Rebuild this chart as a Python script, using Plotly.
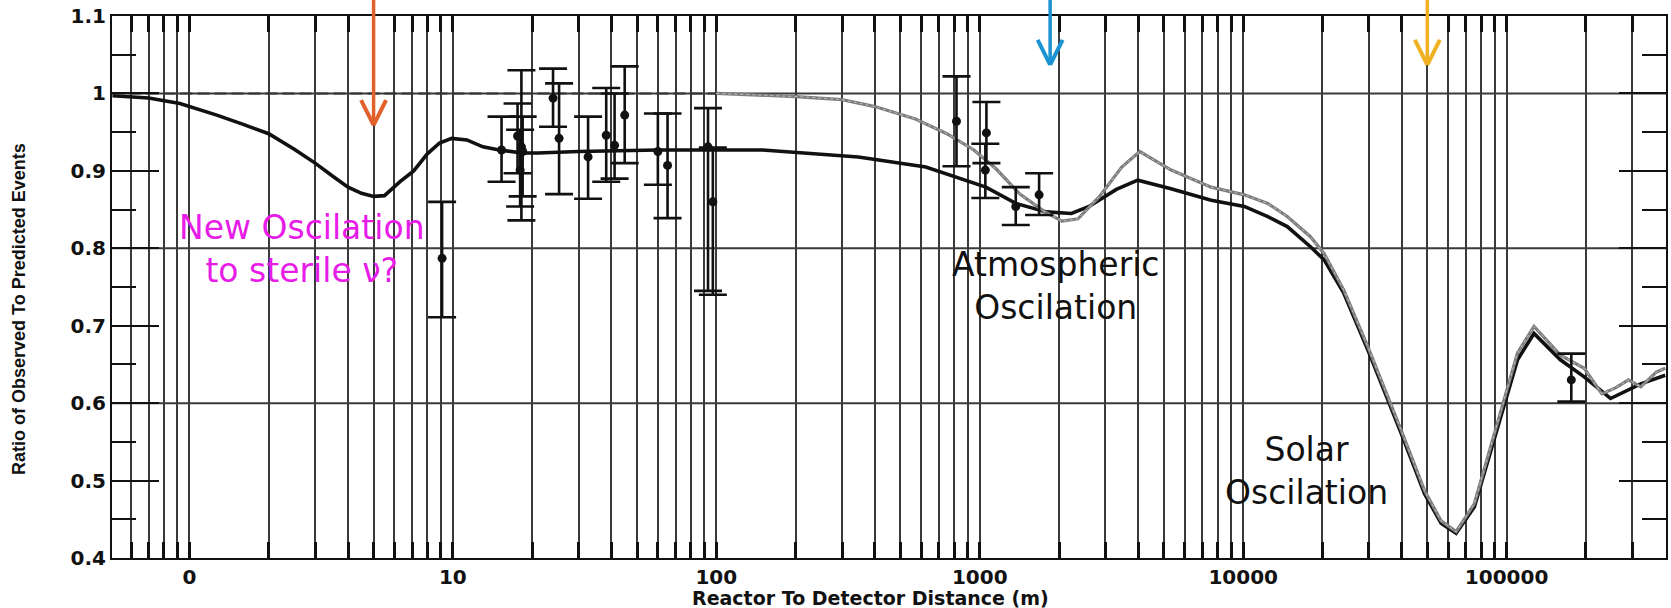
import math
import plotly.graph_objects as go

# Predicted ratio curves (distance in m, ratio observed/predicted)
black_x = [0.51, 0.7, 0.92, 1.27, 1.6, 2.0, 2.5, 3.0, 3.5, 4.0, 4.5, 5.0, 5.5, 6.3, 7.1, 8.0,
           8.9, 9.9, 11.3, 13, 15, 18.4, 21, 30, 60, 150, 346, 624, 1055, 1370, 1790, 2230,
           2600, 2840, 3300, 3980, 5320, 7560, 10100, 12400, 14700, 18000, 20300, 24100,
           29800, 39800, 48800, 56400, 64300, 75400, 95300, 110000, 127000, 160000, 197000,
           248000, 323000, 400000]
black_y = [0.997, 0.994, 0.987, 0.972, 0.960, 0.948, 0.928, 0.910, 0.893, 0.879, 0.871, 0.867,
           0.868, 0.886, 0.900, 0.922, 0.936, 0.942, 0.940, 0.931, 0.927, 0.923, 0.923, 0.925,
           0.927, 0.927, 0.918, 0.905, 0.879, 0.858, 0.847, 0.845, 0.854, 0.862, 0.876, 0.888,
           0.877, 0.862, 0.854, 0.841, 0.828, 0.802, 0.785, 0.742, 0.668, 0.561, 0.483, 0.445,
           0.432, 0.466, 0.582, 0.656, 0.690, 0.656, 0.634, 0.606, 0.625, 0.636]

gray_x = [0.51, 100, 200, 300, 400, 570, 750, 950, 1150, 1420, 1750, 2050, 2360, 2850, 3460,
          4050, 5330, 7560, 10100, 12400, 14700, 18000, 20300, 24100, 29800, 39800, 48800,
          56400, 64300, 75400, 95300, 110000, 127000, 160000, 197000, 230000, 260000, 290000,
          323000, 370000, 400000]
gray_y = [1.0, 1.0, 0.996, 0.992, 0.983, 0.967, 0.948, 0.927, 0.903, 0.870, 0.848, 0.835,
          0.838, 0.867, 0.905, 0.925, 0.901, 0.879, 0.869, 0.858, 0.841, 0.815, 0.793, 0.746,
          0.672, 0.565, 0.487, 0.448, 0.434, 0.470, 0.590, 0.665, 0.699, 0.662, 0.645, 0.612,
          0.620, 0.630, 0.621, 0.640, 0.645]

# Reactor experiments
data_x = [9.1, 15.3, 17.6, 18.0, 18.2, 18.4, 24, 25.3, 32.6, 38.2, 41.1, 44.9, 60, 65.3,
          93, 97, 816, 1050, 1060, 1370, 1680, 176000]
data_y = [0.787, 0.927, 0.945, 0.901, 0.931, 0.925, 0.994, 0.942, 0.918, 0.946, 0.933, 0.972,
          0.925, 0.907, 0.931, 0.860, 0.964, 0.901, 0.949, 0.854, 0.869, 0.630]
data_err_plus = [0.073, 0.043, 0.042, 0.052, 0.099, 0.045, 0.038, 0.071, 0.052, 0.061, 0.067,
                 0.063, 0.049, 0.067, 0.050, 0.070, 0.058, 0.034, 0.040, 0.025, 0.028, 0.034]
data_err_minus = [0.076, 0.041, 0.048, 0.047, 0.095, 0.058, 0.037, 0.072, 0.054, 0.060, 0.043,
                  0.062, 0.043, 0.068, 0.186, 0.120, 0.058, 0.036, 0.039, 0.024, 0.026, 0.028]

x_tick_vals = [1, 10, 100, 1000, 10000, 100000]
x_tick_text = ["0", "10", "100", "1000", "10000", "100000"]
y_tick_vals = [0.4, 0.5, 0.6, 0.7, 0.8, 0.9, 1.0, 1.1]
y_tick_text = ["0.4", "0.5", "0.6", "0.7", "0.8", "0.9", "1", "1.1"]
y_grid_vals = [0.6, 0.8, 1.0]

# Characteristic baselines of each oscillation
arrow_x = [5, 1850, 50000]
arrow_tip_y = [0.959, 1.037, 1.037]
arrow_colors = ["#E2602A", "#1B93D3", "#EFB021"]

WIDTH, HEIGHT = 1671, 608
MARGIN = dict(l=112, r=3, t=16, b=50)
PLOT_W = WIDTH - MARGIN["l"] - MARGIN["r"]
PLOT_H = HEIGHT - MARGIN["t"] - MARGIN["b"]
X_RANGE = [-0.294, 5.605]
Y_RANGE = [0.4, 1.1]
GRID = "#3a3a3a"
INK = "#111111"

minor_x = [m * 10 ** e for e in range(-1, 6) for m in range(2, 10)
           if 0.55 <= m * 10 ** e <= 4e5]
minor_y = [round(0.45 + 0.1 * i, 2) for i in range(7)]


def paper_x(v):
    return (math.log10(v) - X_RANGE[0]) / (X_RANGE[1] - X_RANGE[0])


def paper_y(v):
    return (v - Y_RANGE[0]) / (Y_RANGE[1] - Y_RANGE[0])


fig = go.Figure()

fig.add_trace(go.Scatter(x=black_x, y=black_y, mode="lines",
                         line=dict(color=INK, width=3.6), hoverinfo="skip"))

dash_pts = [(x, y) for x, y in zip(gray_x, gray_y) if x <= 100]
solid_pts = [(x, y) for x, y in zip(gray_x, gray_y) if x >= 100]
fig.add_trace(go.Scatter(x=[p[0] for p in dash_pts], y=[p[1] for p in dash_pts], mode="lines",
                         line=dict(color="#333333", width=2, dash="12px,5px"), hoverinfo="skip"))
fig.add_trace(go.Scatter(x=[p[0] for p in solid_pts], y=[p[1] for p in solid_pts], mode="lines",
                         line=dict(color="#7c7c7c", width=3.2), hoverinfo="skip"))
fig.add_trace(go.Scatter(x=[p[0] for p in solid_pts], y=[p[1] for p in solid_pts], mode="lines",
                         line=dict(color="rgba(255,255,255,0.5)", width=1, dash="dot"),
                         hoverinfo="skip"))

fig.add_trace(go.Scatter(
    x=data_x, y=data_y, mode="markers",
    marker=dict(color=INK, size=9, symbol="circle"),
    error_y=dict(type="data", symmetric=False, array=data_err_plus, arrayminus=data_err_minus,
                 color=INK, thickness=2.6, width=14),
    hoverinfo="skip"))

shapes = []
for gy in y_grid_vals:
    shapes.append(dict(type="line", xref="paper", yref="y", x0=0, x1=1, y0=gy, y1=gy,
                       line=dict(color=GRID, width=2), layer="below"))

# Down-pointing arrows with open chevron heads
head_dx = 12.5 / PLOT_W
head_dy = 25 / PLOT_H
for ax_, ty, col in zip(arrow_x, arrow_tip_y, arrow_colors):
    px, py = paper_x(ax_), paper_y(ty)
    common = dict(type="line", xref="paper", yref="paper", layer="above")
    shapes.append(dict(common, x0=px, x1=px, y0=py, y1=1.08, line=dict(color=col, width=3.5)))
    shapes.append(dict(common, x0=px - head_dx, x1=px, y0=py + head_dy, y1=py,
                       line=dict(color=col, width=4)))
    shapes.append(dict(common, x0=px + head_dx, x1=px, y0=py + head_dy, y1=py,
                       line=dict(color=col, width=4)))

label_font = dict(family="DejaVu Sans", size=33, color=INK)
annotations = [
    dict(text="New Oscilation<br>to sterile ν?", x=0.429, y=0.799,
         font=dict(label_font, color="#E81CE8")),
    dict(text="Atmospheric<br>Oscilation", x=3.289, y=0.751, font=label_font),
    dict(text="Solar<br>Oscilation", x=4.239, y=0.513, font=label_font),
]
for a in annotations:
    a.update(xref="x", yref="y", showarrow=False, xanchor="center", yanchor="middle",
             align="center")

annotations.append(dict(text="Reactor To Detector Distance (m)", xref="paper", yref="paper",
                        x=0.4884, y=-0.0744, showarrow=False, xanchor="center", yanchor="middle",
                        font=dict(family="DejaVu Sans", size=19, color=INK, weight="bold")))
annotations.append(dict(text="Ratio of Observed To Predicted Events", xref="paper", yref="paper",
                        x=-0.0600, y=0.459, showarrow=False, xanchor="center", yanchor="middle",
                        textangle=-90,
                        font=dict(family="Liberation Sans", size=18, color=INK, weight="bold")))

fig.update_layout(
    width=WIDTH, height=HEIGHT,
    margin=MARGIN,
    plot_bgcolor="white", paper_bgcolor="white",
    showlegend=False,
    shapes=shapes,
    annotations=annotations,
)

fig.update_xaxes(
    type="log", range=X_RANGE,
    tickmode="array", tickvals=x_tick_vals, ticktext=x_tick_text,
    showgrid=True, gridcolor=GRID, gridwidth=2,
    ticks="inside", ticklen=16, tickwidth=3, tickcolor=INK,
    showline=True, linecolor=INK, linewidth=2, mirror="allticks", zeroline=False,
    minor=dict(tickmode="array", tickvals=minor_x, showgrid=True, gridcolor=GRID, gridwidth=2,
               ticks="inside", ticklen=16, tickwidth=3, tickcolor=INK),
    tickfont=dict(family="DejaVu Sans", size=20, color=INK, weight="bold"),
)

fig.update_yaxes(
    range=Y_RANGE,
    tickmode="array", tickvals=y_tick_vals, ticktext=y_tick_text,
    showgrid=False,
    ticks="inside", ticklen=47, tickwidth=2, tickcolor=INK,
    showline=True, linecolor=INK, linewidth=2, mirror="allticks", zeroline=False,
    minor=dict(tickmode="array", tickvals=minor_y, ticks="inside", ticklen=24, tickwidth=2,
               tickcolor=INK, showgrid=False),
    tickfont=dict(family="DejaVu Sans", size=20, color=INK, weight="bold"),
)

fig.write_html("out.html")
